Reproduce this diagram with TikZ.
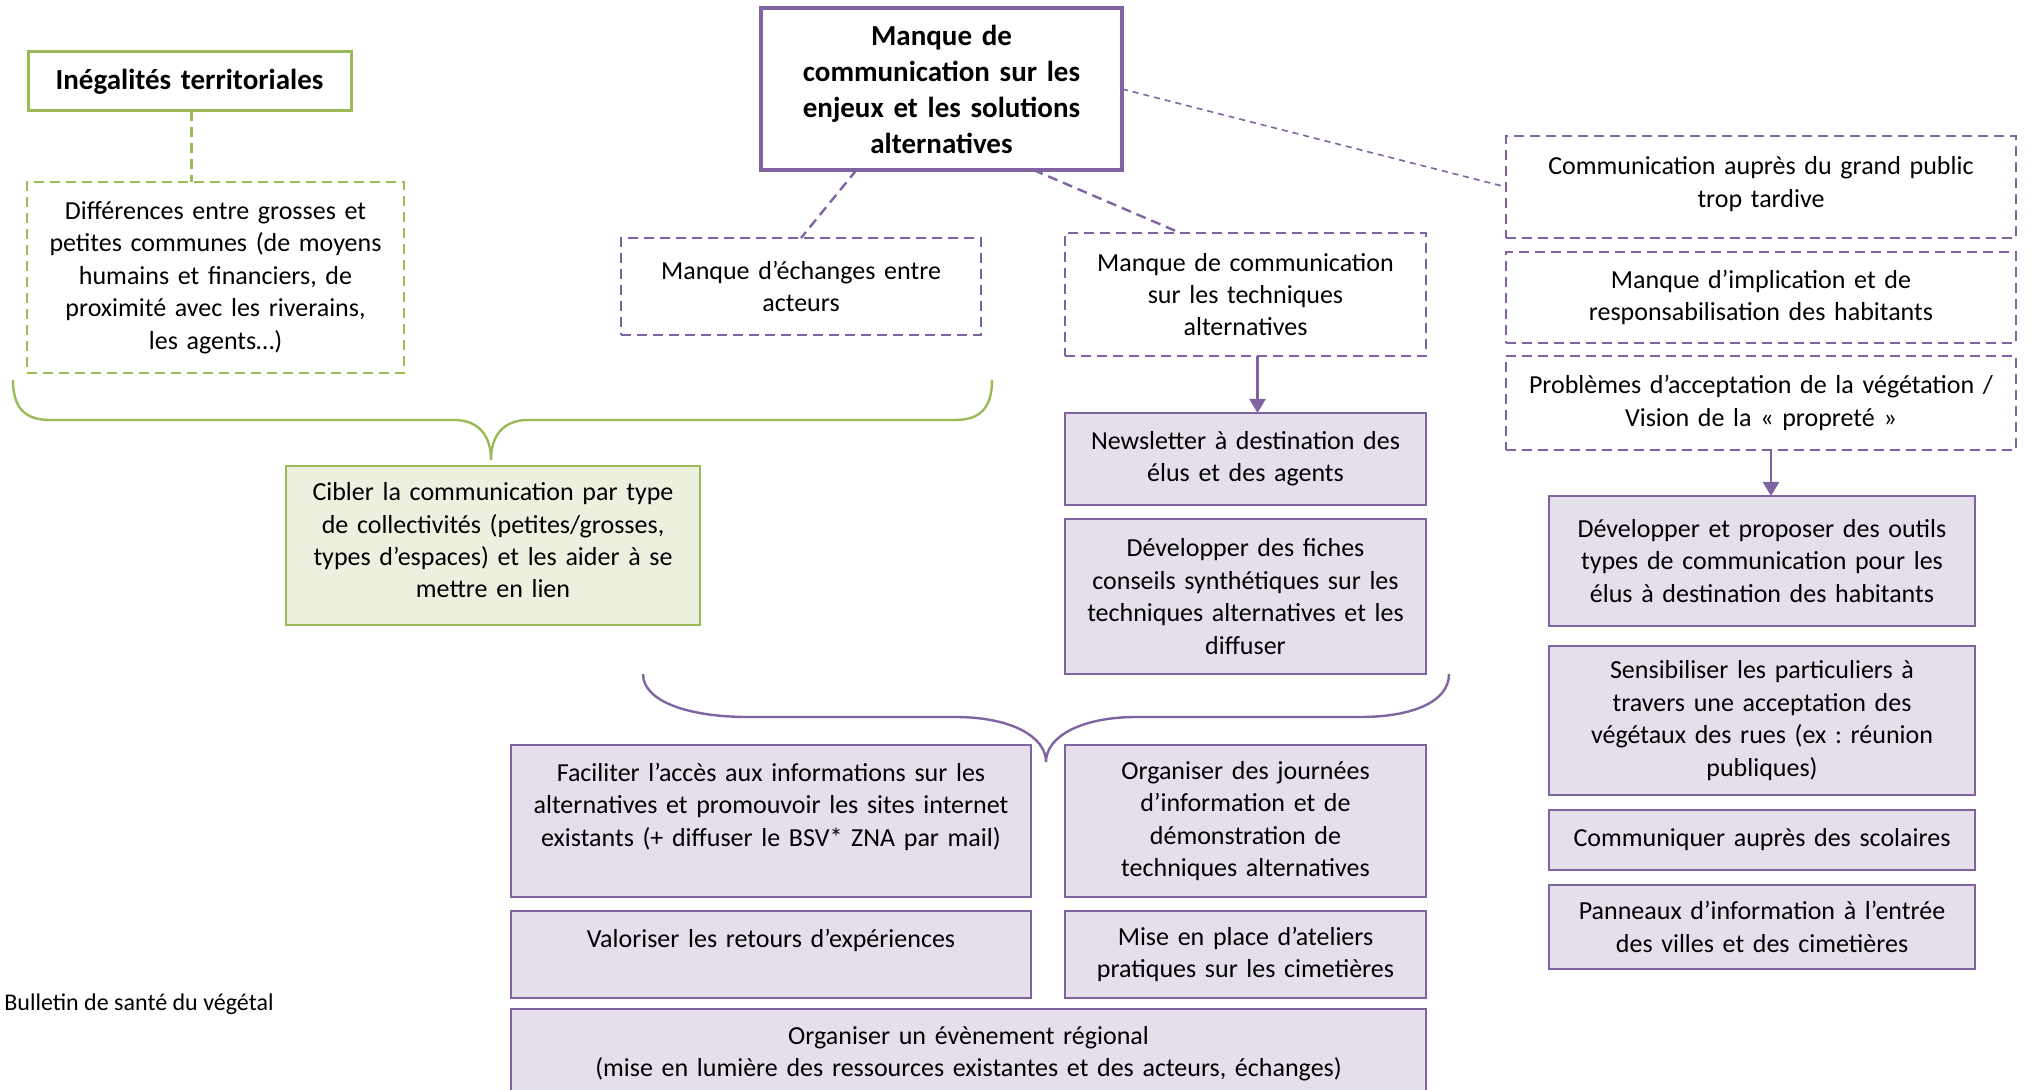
\documentclass[tikz,border=0pt]{standalone}
\usepackage{fontspec}
\setmainfont{Carlito}
\frenchspacing
\usetikzlibrary{arrows.meta,calc}
\definecolor{pur}{HTML}{8064A2}
\definecolor{purfillc}{HTML}{E5DFEC}
\definecolor{grn}{HTML}{9BBB59}
\definecolor{grnfillc}{HTML}{EBF1DE}
\newcommand\regf{\fontsize{13}{16.2}\selectfont}
\newcommand\boldf{\fontsize{14.5}{18}\selectfont\bfseries}
\newcommand\mybox[7]{%
 \pgfmathsetmacro\mybw{(#4-#2)*0.5}%
 \pgfmathsetmacro\mybh{(#5-#3)*0.5}%
 \pgfmathsetmacro\mytw{(#4-#2-12)*0.5}%
 \pgfmathsetmacro\mycx{(#2+#4)/2}%
 \pgfmathsetmacro\mycy{(#3+#5)/2}%
 \node[#6, minimum width=\mybw pt, minimum height=\mybh pt, text width=\mytw pt] (#1) at (\mycx,\mycy) {#7};}
\tikzset{
 basebox/.style={rectangle, align=center, inner sep=0pt, outer sep=0pt, font=\regf, text=black},
 greenbold/.style={basebox, draw=grn, line width=1.5pt, font=\boldf},
 greendash/.style={basebox, draw=grn, line width=1.2pt, dash pattern=on 5pt off 3pt},
 greenfill/.style={basebox, draw=grn, fill=grnfillc, line width=1.2pt},
 purbold/.style={basebox, draw=pur, line width=1.6pt, font=\boldf},
 purdash/.style={basebox, draw=pur, line width=1.2pt, dash pattern=on 5pt off 3pt},
 purfill/.style={basebox, draw=pur, fill=purfillc, line width=1.2pt},
 gconn/.style={draw=grn, line width=1.2pt, dash pattern=on 5pt off 3pt},
 pconn/.style={draw=pur, line width=1.2pt, dash pattern=on 5pt off 3pt},
 pthin/.style={draw=pur, line width=0.8pt, dash pattern=on 3pt off 2.5pt},
 parrow/.style={draw=pur, line width=1.2pt, -{Triangle[width=8pt,length=7pt]}},
 gbrace/.style={draw=grn, line width=1.2pt},
 pbrace/.style={draw=pur, line width=1.2pt},
}
\begin{document}
\begin{tikzpicture}[x=0.5pt,y=-0.5pt]
\useasboundingbox (0,0) rectangle (2029,1090);
\mybox{ineg}{28}{52}{351}{111}{greenbold}{Inégalités territoriales}
\mybox{diff}{27}{182}{404}{373}{greendash}{Différences entre grosses et\\petites communes (de moyens\\humains et financiers, de\\proximité avec les riverains,\\les agents…)}
\mybox{cib}{286}{466}{700}{625}{greenfill}{Cibler la communication par type\\de collectivités (petites/grosses,\\types d’espaces) et les aider à se\\mettre en lien\\[-11pt]\mbox{}}
\mybox{main}{761}{8}{1122}{170}{purbold}{Manque de\\communication sur les\\enjeux et les solutions\\alternatives}
\mybox{ech}{621}{238}{981}{335}{purdash}{Manque d’échanges entre\\acteurs}
\mybox{tech}{1065}{233}{1426}{356}{purdash}{Manque de communication\\sur les techniques\\alternatives}
\mybox{news}{1065}{413}{1426}{505}{purfill}{Newsletter à destination des\\élus et des agents}
\mybox{fich}{1065}{519}{1426}{674}{purfill}{Développer des fiches\\conseils synthétiques sur les\\techniques alternatives et les\\diffuser}
\mybox{fac}{511}{745}{1031}{897}{purfill}{Faciliter l’accès aux informations sur les\\alternatives et promouvoir les sites internet\\existants (+ diffuser le BSV* ZNA par mail)\\\mbox{}}
\mybox{jour}{1065}{745}{1426}{897}{purfill}{Organiser des journées\\d’information et de\\démonstration de\\techniques alternatives}
\mybox{val}{511}{911}{1031}{998}{purfill}{Valoriser les retours d’expériences\\\mbox{}}
\mybox{mise}{1065}{911}{1426}{998}{purfill}{Mise en place d’ateliers\\pratiques sur les cimetières}
\mybox{even}{511}{1009}{1426}{1098}{purfill}{Organiser un évènement régional\\(mise en lumière des ressources existantes et des acteurs, échanges)}
\mybox{comm}{1506}{136}{2016}{238}{purdash}{Communication auprès du grand public\\trop tardive\\[-11pt]\mbox{}}
\mybox{impl}{1506}{252}{2016}{343}{purdash}{Manque d’implication et de\\responsabilisation des habitants}
\mybox{prob}{1506}{356}{2016}{450}{purdash}{Problèmes d’acceptation de la végétation /\\Vision de la «~propreté~»}
\mybox{outi}{1549}{496}{1975}{626}{purfill}{Développer et proposer des outils\\types de communication pour les\\élus à destination des habitants}
\mybox{sens}{1549}{646}{1975}{795}{purfill}{Sensibiliser les particuliers à\\travers une acceptation des\\végétaux des rues (ex : réunion\\publiques)}
\mybox{scol}{1549}{810}{1975}{870}{purfill}{Communiquer auprès des scolaires}
\mybox{pann}{1549}{885}{1975}{969}{purfill}{Panneaux d’information à l’entrée\\des villes et des cimetières}
\node[anchor=west, inner sep=0pt, font=\fontsize{12}{14}\selectfont] (bsv) at (4,1004) {Bulletin de santé du végétal};
% connectors
\draw[gconn] ($(ineg.south)+(2,0)$) -- ($(ineg.south |- diff.north)+(2,0)$);
\draw[pconn] ($(main.south)+(-85,0)$) -- (ech.north);
\draw[pconn] ($(main.south)+(92,0)$) -- ($(tech.north)+(-65,0)$);
\draw[pthin] (main.east) -- (comm.west);
\draw[parrow] ($(tech.south)+(12,0)$) -- ($(news.north)+(12,0)$);
\draw[parrow] ($(prob.south)+(10,0)$) -- ($(outi.north)+(9,0)$);
% braces
\draw[gbrace] (13,380) .. controls (13,408) and (25,420) .. (50,420) -- (454,420) .. controls (479,420) and (491,436) .. (491,460) .. controls (491,436) and (503,420) .. (528,420) -- (955,420) .. controls (980,420) and (992,408) .. (992,380);
\draw[pbrace] (643,674) .. controls (643,702) and (690,717) .. (748,717) -- (955,717) .. controls (1012,717) and (1046,737) .. (1046,762) .. controls (1046,737) and (1080,717) .. (1137,717) -- (1360,717) .. controls (1412,717) and (1449,702) .. (1449,674);
\end{tikzpicture}
\end{document}
